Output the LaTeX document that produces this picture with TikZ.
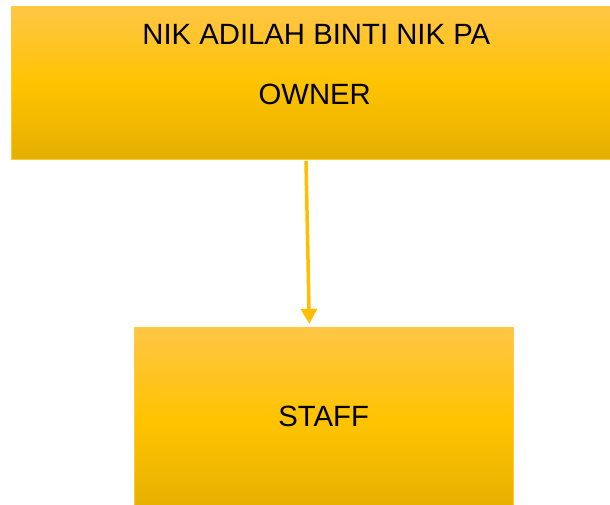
\documentclass[tikz,border=0pt]{standalone}
\usepackage{fontspec}
\setmainfont{Liberation Sans}
\usetikzlibrary{arrows.meta,calc}
\definecolor{boxtop}{HTML}{FFC646}
\definecolor{boxmid}{HTML}{FFC300}
\definecolor{boxbot}{HTML}{E5AF00}
\definecolor{boxedge}{HTML}{FFC937}
\definecolor{arrowcol}{HTML}{FFBF00}
\tikzset{
  ybox/.style={rectangle, inner sep=0pt, draw=boxedge, line width=0.9pt,
    top color=boxtop, bottom color=boxbot, middle color=boxmid},
  ytext/.style={inner sep=0pt, anchor=base, font=\fontsize{29.3}{35}\selectfont, text=black},
  yarrow/.style={draw=arrowcol, line width=3.5pt, -{Triangle[width=16pt,length=15pt]}}
}
\begin{document}
\begin{tikzpicture}[x=1pt,y=-1pt]
\useasboundingbox (0,0) rectangle (610,505);
\clip (0,0) rectangle (610,505);
\node[ybox, minimum width=610pt, minimum height=152pt] (owner) at (316,83) {};
\node[ybox, minimum width=378.7pt, minimum height=186pt] (staff) at (323.7,420.3) {};
\node[ytext] (name) at (316.3,45) {NIK ADILAH BINTI NIK PA};
\node[ytext] (role) at (314.7,104.3) {OWNER};
\node[ytext] (stafftext) at (323.7,426) {STAFF};
\coordinate (from) at ($(owner.south)+(-10,1.5)$);
\coordinate (to) at ($(staff.north)+(-14.4,-3)$);
\draw[yarrow] (from) -- (to);
\end{tikzpicture}
\end{document}
